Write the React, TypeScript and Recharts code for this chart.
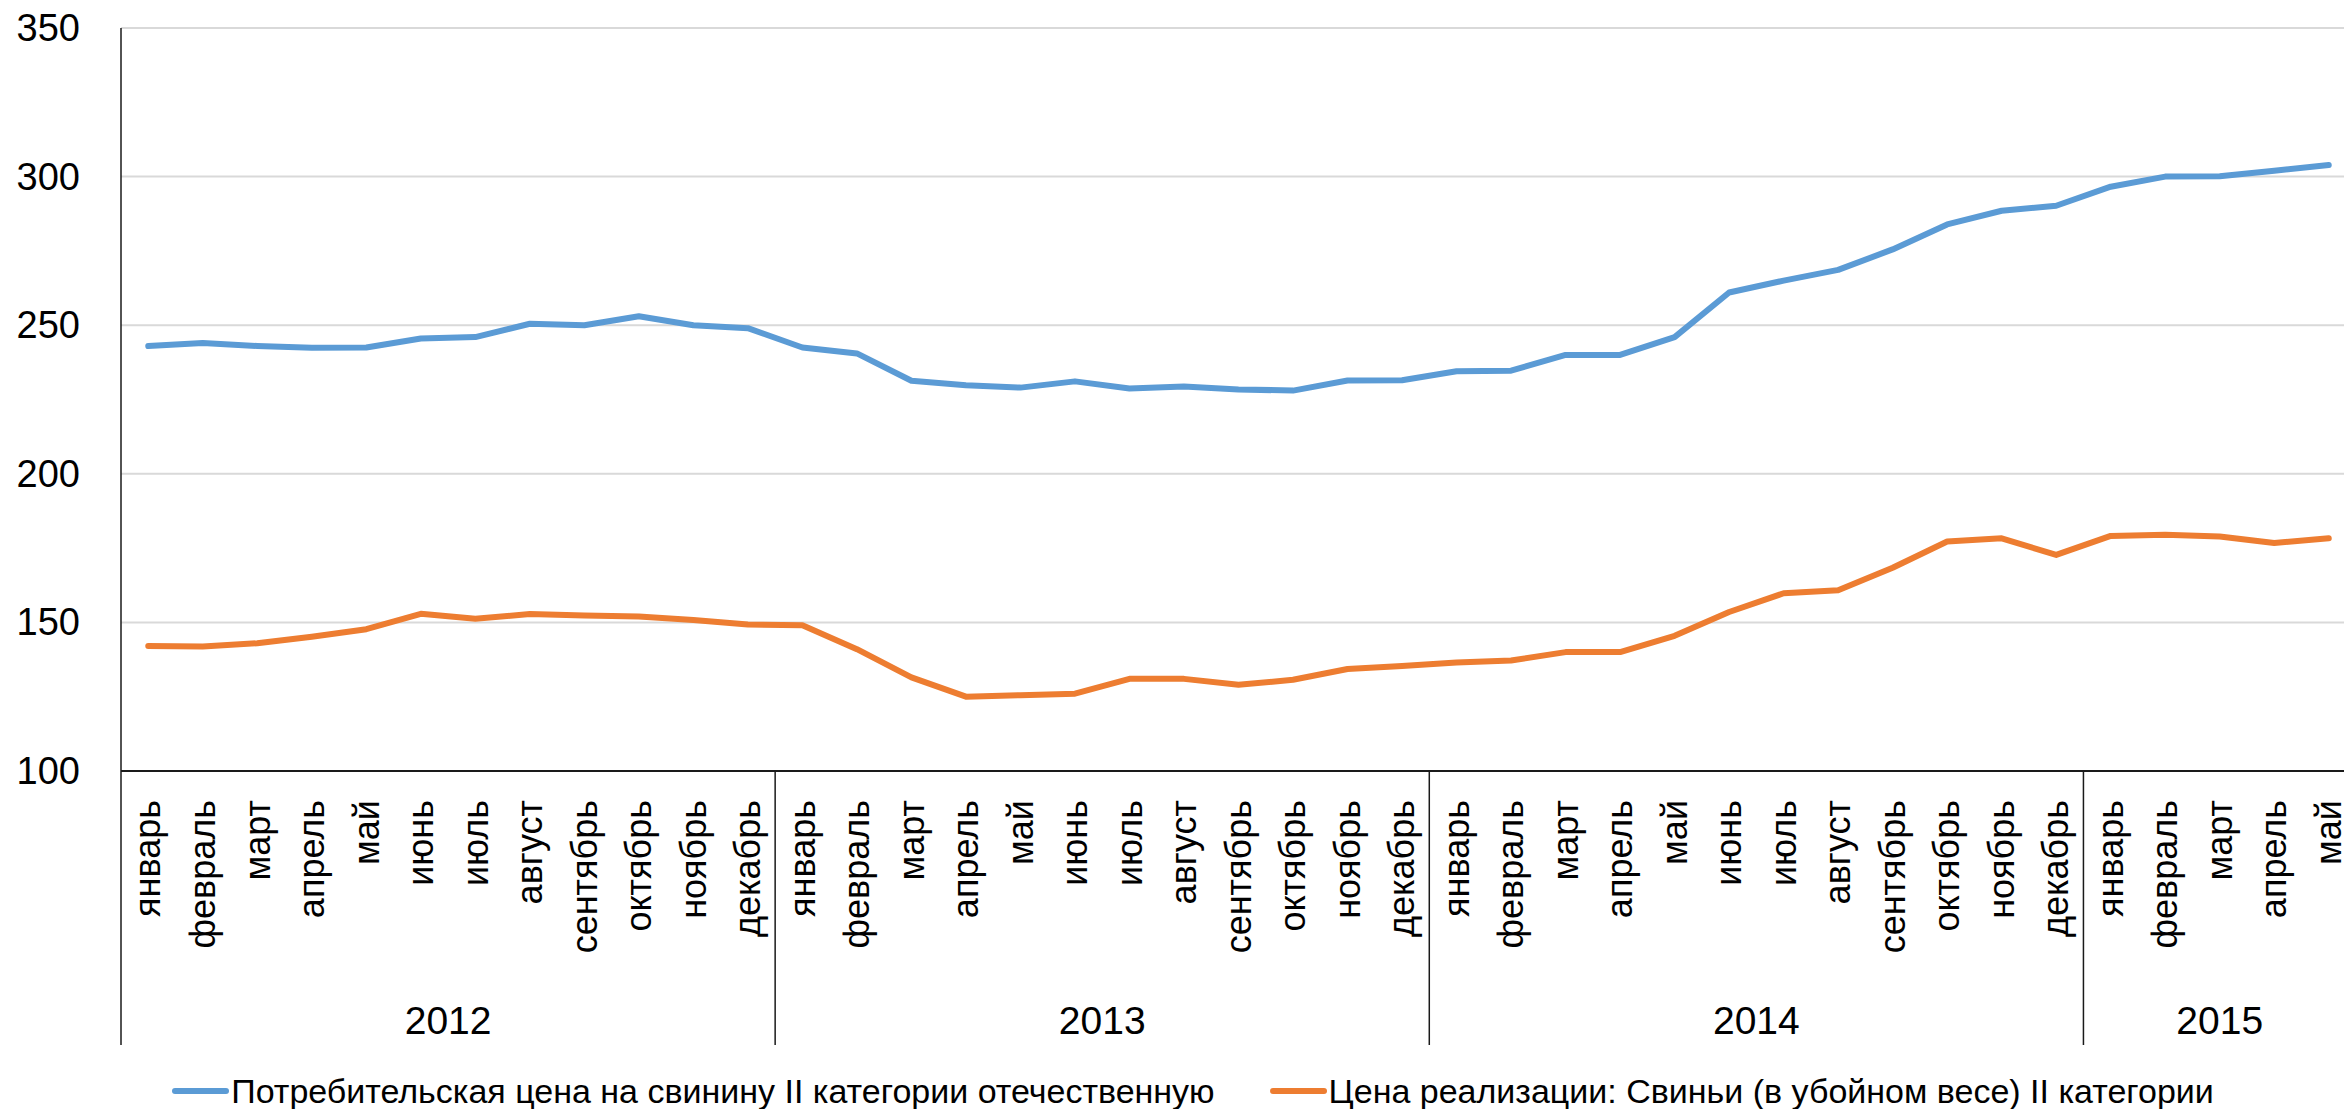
import React from 'react';
import { LineChart, Line, XAxis, YAxis, CartesianGrid, Legend } from 'recharts';

const years = [2012, 2013, 2014, 2015];
const monthsPerYear = [12, 12, 12, 5];
const monthNames = ['январь', 'февраль', 'март', 'апрель', 'май', 'июнь', 'июль', 'август', 'сентябрь', 'октябрь', 'ноябрь', 'декабрь'];

const consumerPrice = [
  243.0, 244.0, 243.0, 242.4, 242.5, 245.5, 246.0, 250.5, 250.0, 253.0, 250.0, 249.0,
  242.5, 240.5, 231.3, 229.8, 229.0, 231.1, 228.7, 229.4, 228.4, 228.0, 231.4, 231.5,
  234.5, 234.7, 240.0, 240.0, 246.0, 261.0, 265.0, 268.6, 275.5, 283.9, 288.5, 290.2,
  296.6, 300.0, 300.1, 302.0, 303.9,
];
const producerPrice = [
  142.1, 141.9, 143.0, 145.2, 147.7, 152.9, 151.2, 152.8, 152.3, 152.0, 150.8, 149.3,
  149.0, 141.0, 131.5, 125.0, 125.5, 126.0, 131.0, 131.0, 129.0, 130.7, 134.3, 135.3,
  136.5, 137.2, 140.0, 140.0, 145.5, 153.5, 159.8, 160.8, 168.4, 177.2, 178.3, 172.7,
  179.1, 179.5, 178.9, 176.7, 178.3,
];
const yTicks = [100, 150, 200, 250, 300, 350];
const seriesNames = [
  'Потребительская цена на свинину II категории отечественную',
  'Цена реализации: Свиньи (в убойном весе) II категории',
];
const seriesColors = ['#5b9bd5', '#ed7d31'];

type Row = { key: string; month: string; monthIdx: number; year: number; yearIdx: number; consumer: number; producer: number };
const data: Row[] = [];
{
  let k = 0;
  years.forEach((yr, yi) => {
    for (let m = 0; m < monthsPerYear[yi]; m++) {
      data.push({
        key: `${yr}-${m + 1}`,
        month: monthNames[m],
        monthIdx: m,
        year: yr,
        yearIdx: yi,
        consumer: consumerPrice[k],
        producer: producerPrice[k],
      });
      k++;
    }
  });
}

const CHART_W = 2360;
const CHART_H = 1109;
const MARGIN = { top: 28, right: 4, bottom: 0, left: 0 };
const Y_AXIS_W = 121;
const LEGEND_H = 60;
const X_AXIS_H = CHART_H - 771 - LEGEND_H;
const PLOT_W = CHART_W - MARGIN.left - MARGIN.right - Y_AXIS_W;
const BAND = PLOT_W / data.length;

const TICK_FONT = '"Liberation Sans", Arial, sans-serif';

const YTick = (props: any) => {
  const { x, y, payload } = props;
  return (
    <text x={x} y={y} textAnchor="end" dominantBaseline="central" fontSize={38} fontFamily={TICK_FONT} fill="#000">
      {payload.value}
    </text>
  );
};

const MonthTick = (props: any) => {
  const { x, y, payload, index } = props;
  const i = payload && typeof payload.index === 'number' ? payload.index : index;
  const row = data[i];
  if (!row) return null;
  const labelTop = y + 29;
  const count = monthsPerYear[row.yearIdx];
  return (
    <g>
      <text
        x={x}
        y={labelTop}
        transform={`rotate(-90, ${x}, ${labelTop})`}
        textAnchor="end"
        dy="0.34em"
        fontSize={36}
        fontFamily={TICK_FONT}
        fill="#000"
      >
        {row.month}
      </text>
      {row.monthIdx === 0 && (
        <line x1={x - BAND / 2} x2={x - BAND / 2} y1={y} y2={y + 274} stroke="#1a1a1a" strokeWidth={1.5} />
      )}
      {row.monthIdx === 0 && (
        <text
          x={x + ((count - 1) * BAND) / 2}
          y={y + 249}
          textAnchor="middle"
          dominantBaseline="central"
          fontSize={39}
          fontFamily={TICK_FONT}
          fill="#000"
        >
          {row.year}
        </text>
      )}
    </g>
  );
};

const LegendContent = () => (
  <div
    style={{
      height: LEGEND_H,
      boxSizing: 'border-box',
      paddingTop: 24,
      paddingLeft: 30,
      display: 'flex',
      justifyContent: 'center',
      alignItems: 'center',
      gap: 55,
      fontFamily: TICK_FONT,
      fontSize: 34,
      color: '#000',
      whiteSpace: 'nowrap',
    }}
  >
    {seriesNames.map((n, i) => (
      <div key={n} style={{ display: 'flex', alignItems: 'center', gap: 2 }}>
        <svg width={57} height={12}>
          <line x1={3} x2={54} y1={6} y2={6} stroke={seriesColors[i]} strokeWidth={6} strokeLinecap="round" />
        </svg>
        <span>{n}</span>
      </div>
    ))}
  </div>
);

export default function App() {
  return (
    <div style={{ position: 'absolute', left: 0, top: 0, width: 2344, height: 1109, overflow: 'hidden', background: '#fff' }}>
      <LineChart width={CHART_W} height={CHART_H} data={data} margin={MARGIN}>
        <CartesianGrid horizontal vertical={false} stroke="#d9d9d9" strokeWidth={2} />
        <XAxis
          dataKey="key"
          type="category"
          interval={0}
          height={X_AXIS_H}
          padding={{ left: BAND / 2, right: BAND / 2 }}
          tick={<MonthTick />}
          tickLine={false}
          tickSize={0}
          tickMargin={0}
          axisLine={{ stroke: '#1a1a1a', strokeWidth: 2 }}
        />
        <YAxis
          domain={[100, 350]}
          ticks={yTicks}
          interval={0}
          width={Y_AXIS_W}
          tick={<YTick />}
          tickLine={false}
          tickSize={0}
          tickMargin={41}
          axisLine={{ stroke: '#1a1a1a', strokeWidth: 1.5 }}
        />
        <Legend verticalAlign="bottom" height={LEGEND_H} content={<LegendContent />} />
        <Line
          dataKey="consumer"
          name={seriesNames[0]}
          stroke={seriesColors[0]}
          strokeWidth={6}
          strokeLinecap="round"
          strokeLinejoin="round"
          dot={false}
          isAnimationActive={false}
        />
        <Line
          dataKey="producer"
          name={seriesNames[1]}
          stroke={seriesColors[1]}
          strokeWidth={6}
          strokeLinecap="round"
          strokeLinejoin="round"
          dot={false}
          isAnimationActive={false}
        />
      </LineChart>
    </div>
  );
}
